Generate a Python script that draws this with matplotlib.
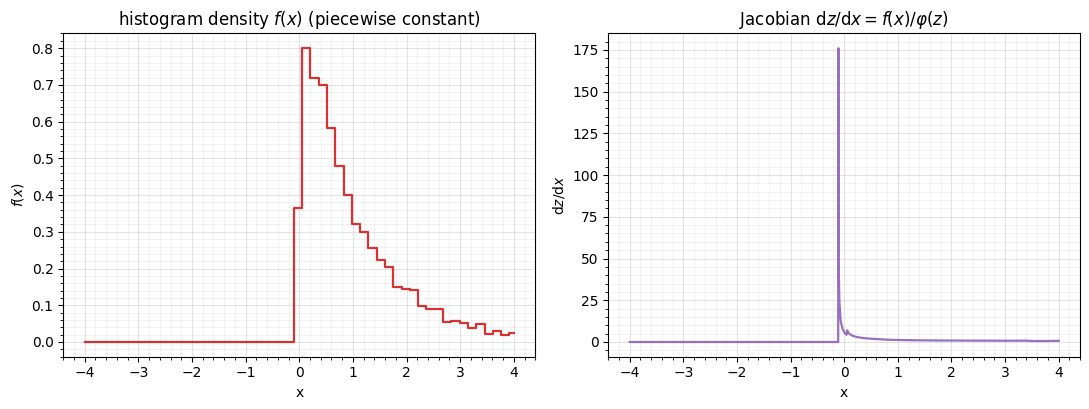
import numpy as np
import matplotlib
matplotlib.use("Agg")
import matplotlib.pyplot as plt
from matplotlib.ticker import AutoMinorLocator

# ---- data ----
x_range = [-4.0, 4.0]
bin_edges = [-0.103, 0.052, 0.206, 0.361, 0.516, 0.670, 0.825, 0.980, 1.135,
             1.289, 1.444, 1.599, 1.753, 1.908, 2.063, 2.217, 2.372, 2.527,
             2.682, 2.836, 2.991, 3.146, 3.300, 3.455, 3.610, 3.764, 3.919]
density = [0.365, 0.800, 0.720, 0.700, 0.583, 0.480, 0.400, 0.322, 0.300,
           0.255, 0.222, 0.205, 0.150, 0.143, 0.141, 0.098, 0.091, 0.089,
           0.054, 0.056, 0.052, 0.039, 0.049, 0.022, 0.031, 0.018, 0.024]

jac_x = [-4.0, -0.112, -0.108, -0.100, -0.090, -0.065, -0.028, 0.015, 0.045,
         0.055, 0.080, 0.108, 0.160, 0.233, 0.350, 0.480, 0.650, 0.790,
         1.000, 1.410, 1.800, 2.200, 2.600, 3.000, 3.400, 3.500, 3.800, 4.0]
jac_y = [0.0, 0.0, 176.0, 40.0, 24.5, 12.5, 7.6, 5.2, 4.3,
         7.0, 5.4, 4.6, 3.7, 3.0, 2.4, 2.0, 1.7, 1.4,
         1.2, 1.0, 0.9, 0.85, 0.8, 0.75, 0.8, 0.6, 0.6, 0.7]

# ---- figure ----
fig = plt.figure(figsize=(10.89, 4.09), dpi=100)
ax1 = fig.add_axes([0.0581, 0.1279, 0.4334, 0.7902])
ax2 = fig.add_axes([0.5586, 0.1279, 0.4332, 0.7902])

xs = [x_range[0]] + bin_edges + [x_range[1]]
ys = [0.0] + density + [density[-1]]
ax1.plot(xs, ys, drawstyle="steps-post", color="#d62728", lw=1.6, alpha=0.95)
ax1.set_title(r"histogram density $f(x)$ (piecewise constant)", fontsize=12)
ax1.set_xlabel("x")
ax1.set_ylabel(r"$f(x)$")

ax2.plot(jac_x, jac_y, color="#9467bd", lw=1.6, alpha=0.95)
ax2.set_title(r"Jacobian $\mathrm{d}z/\mathrm{d}x = f(x)/\varphi(z)$", fontsize=12)
ax2.set_xlabel("x")
ax2.set_ylabel(r"$\mathrm{d}z/\mathrm{d}x$")

for ax in (ax1, ax2):
    ax.xaxis.set_minor_locator(AutoMinorLocator(5))
    ax.yaxis.set_minor_locator(AutoMinorLocator(5))
    ax.grid(True, which="major", color="#b0b0b0", alpha=0.35, lw=0.8)
    ax.grid(True, which="minor", color="#b0b0b0", alpha=0.18, lw=0.6)
    ax.set_axisbelow(True)

fig.savefig("out.png", dpi=100)
